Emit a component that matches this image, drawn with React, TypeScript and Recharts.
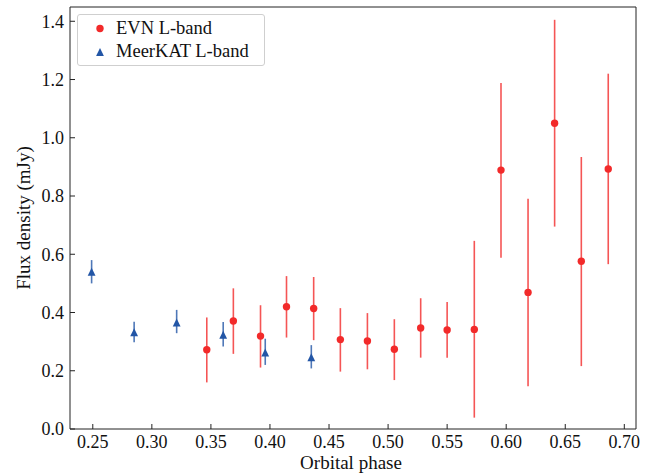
import React from "react";
import { ErrorBar, Legend, Scatter, ScatterChart, XAxis, YAxis } from "recharts";

document.body.style.margin = "0";

// EVN L-band (red circles), flux density in mJy with lower/upper error bounds
const EVN_PHASE = [0.3465, 0.369, 0.392, 0.414, 0.437, 0.4596, 0.4825, 0.5053, 0.5276, 0.55, 0.573, 0.5956, 0.6185, 0.641, 0.6636, 0.6864];
const EVN_FLUX = [0.272, 0.371, 0.319, 0.42, 0.414, 0.307, 0.302, 0.274, 0.347, 0.34, 0.342, 0.889, 0.469, 1.05, 0.576, 0.893];
const EVN_LOW = [0.16, 0.258, 0.211, 0.314, 0.305, 0.197, 0.205, 0.168, 0.245, 0.245, 0.039, 0.588, 0.147, 0.695, 0.216, 0.566];
const EVN_HIGH = [0.383, 0.483, 0.425, 0.525, 0.522, 0.415, 0.398, 0.377, 0.449, 0.436, 0.646, 1.188, 0.791, 1.405, 0.934, 1.22];

// MeerKAT L-band (blue triangles)
const MK_PHASE = [0.249, 0.285, 0.321, 0.3604, 0.396, 0.435];
const MK_FLUX = [0.54, 0.332, 0.366, 0.324, 0.263, 0.246];
const MK_LOW = [0.5, 0.298, 0.329, 0.283, 0.22, 0.208];
const MK_HIGH = [0.58, 0.368, 0.409, 0.367, 0.31, 0.288];

const X_TICKS = [0.25, 0.3, 0.35, 0.4, 0.45, 0.5, 0.55, 0.6, 0.65, 0.7];
const Y_TICKS = [0, 0.2, 0.4, 0.6, 0.8, 1.0, 1.2, 1.4];

const RED = "#f22a2a";
const BLUE = "#2356a6";
const AXIS = "#222";
const FONT = "'Liberation Serif', 'Times New Roman', serif";

function buildRows(phase: number[], flux: number[], low: number[], high: number[]) {
  return phase.map((x, i) => ({ x, y: flux[i], err: [flux[i] - low[i], high[i] - flux[i]] }));
}

const evnRows = buildRows(EVN_PHASE, EVN_FLUX, EVN_LOW, EVN_HIGH);
const mkRows = buildRows(MK_PHASE, MK_FLUX, MK_LOW, MK_HIGH);

const Dot = (p: any) => <circle cx={p.cx} cy={p.cy} r={3.7} fill={RED} />;
const Tri = (p: any) => (
  <polygon
    points={`${p.cx},${p.cy - 4} ${p.cx - 3.9},${p.cy + 4} ${p.cx + 3.9},${p.cy + 4}`}
    fill={BLUE}
  />
);

function LegendBox() {
  return (
    <div
      style={{
        border: "1px solid #cfcfcf",
        borderRadius: 3,
        background: "#fff",
        width: 188,
        height: 52,
        boxSizing: "border-box",
        fontFamily: FONT,
        fontSize: 18.5,
        color: "#111",
        position: "relative",
      }}
    >
      <svg width={20} height={50} style={{ position: "absolute", left: 12, top: 0 }}>
        <circle cx={10} cy={13.5} r={3.7} fill={RED} />
        <polygon points="10,33 6.1,41 13.9,41" fill={BLUE} />
      </svg>
      <div style={{ position: "absolute", left: 38, top: 3, lineHeight: "20px" }}>EVN L-band</div>
      <div style={{ position: "absolute", left: 38, top: 26, lineHeight: "20px" }}>MeerKAT L-band</div>
    </div>
  );
}

export default function App() {
  const tickStyle = { fontSize: 18, fontFamily: FONT, fill: "#111" };
  return (
    <ScatterChart width={652} height={473} margin={{ top: 0, right: 0, bottom: 0, left: 0 }}>
      <XAxis
        type="number"
        dataKey="x"
        xAxisId="b"
        domain={[0.2307, 0.7099]}
        allowDataOverflow
        ticks={X_TICKS}
        tickFormatter={(v: number) => v.toFixed(2)}
        height={44}
        tickSize={-5}
        tickMargin={11}
        tick={tickStyle}
        stroke={AXIS}
        label={{
          content: () => (
            <text x={351} y={469} textAnchor="middle" fontFamily={FONT} fontSize={19} fill="#111">
              Orbital phase
            </text>
          ),
        }}
      />
      <XAxis
        type="number"
        dataKey="x"
        xAxisId="t"
        orientation="top"
        domain={[0.2307, 0.7099]}
        allowDataOverflow
        ticks={X_TICKS}
        height={7}
        tickSize={-5}
        tick={false}
        stroke={AXIS}
      />
      <YAxis
        type="number"
        dataKey="y"
        yAxisId="l"
        domain={[0, 1.449]}
        allowDataOverflow
        ticks={Y_TICKS}
        tickFormatter={(v: number) => v.toFixed(1)}
        width={70}
        tickSize={-5}
        tickMargin={11}
        tick={tickStyle}
        stroke={AXIS}
        label={{
          content: () => (
            <text
              x={23}
              y={218}
              transform="rotate(-90 23 218)"
              textAnchor="middle"
              dominantBaseline="central"
              fontFamily={FONT}
              fontSize={19}
              fill="#111"
            >
              Flux density (mJy)
            </text>
          ),
        }}
      />
      <YAxis
        type="number"
        dataKey="y"
        yAxisId="r"
        orientation="right"
        domain={[0, 1.449]}
        allowDataOverflow
        ticks={Y_TICKS}
        width={16}
        tickSize={-5}
        tick={false}
        stroke={AXIS}
      />
      <Legend
        layout="vertical"
        align="center"
        verticalAlign="middle"
        wrapperStyle={{ left: 77, top: 14, width: 188 }}
        content={() => <LegendBox />}
      />
      <Scatter name="EVN L-band" data={evnRows} xAxisId="b" yAxisId="l" shape={Dot} isAnimationActive={false}>
        <ErrorBar dataKey="err" direction="y" width={0} stroke={RED} strokeOpacity={0.8} strokeWidth={1.6} isAnimationActive={false} />
      </Scatter>
      <Scatter name="MeerKAT L-band" data={mkRows} xAxisId="b" yAxisId="l" shape={Tri} isAnimationActive={false}>
        <ErrorBar dataKey="err" direction="y" width={0} stroke={BLUE} strokeOpacity={0.8} strokeWidth={1.6} isAnimationActive={false} />
      </Scatter>
    </ScatterChart>
  );
}
